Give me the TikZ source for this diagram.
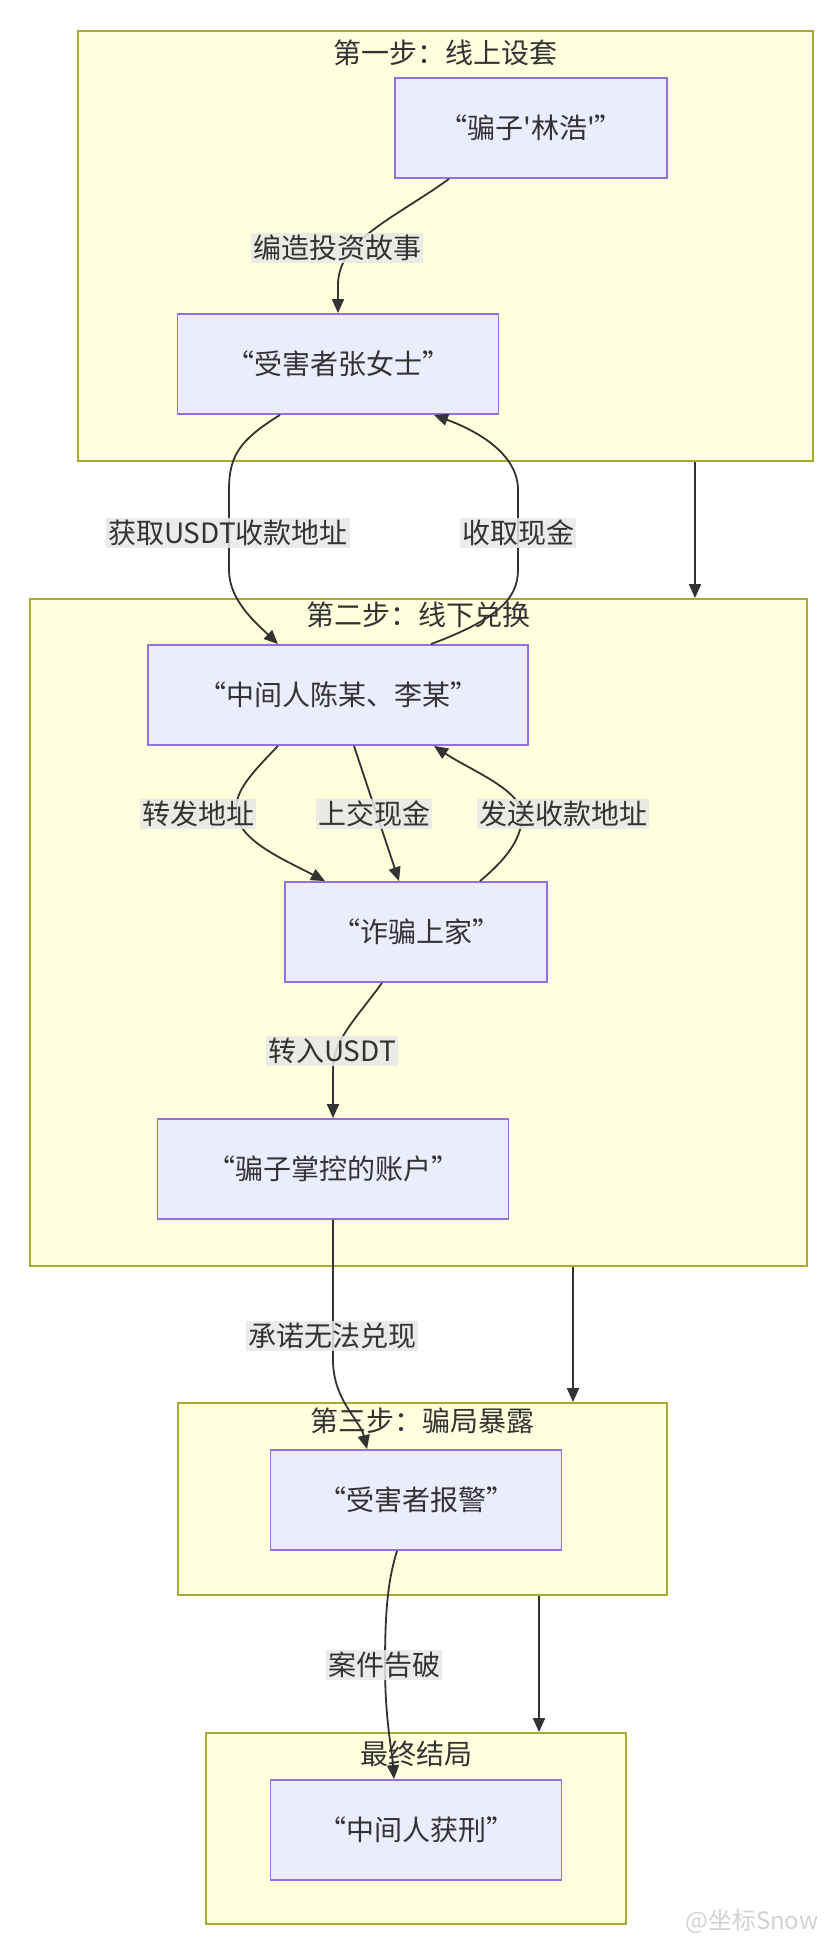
\documentclass[tikz,border=0pt]{standalone}
\usepackage{fontspec}
\setmainfont{Noto Sans CJK SC}
\usetikzlibrary{arrows.meta,calc,positioning}
\definecolor{clusterfill}{HTML}{FFFFDE}
\definecolor{clusterline}{HTML}{AAAA33}
\definecolor{boxfill}{HTML}{ECECFF}
\definecolor{boxline}{HTML}{9370DB}
\definecolor{labelfill}{HTML}{E8E8E8}
\definecolor{ink}{HTML}{333333}
\newcommand{\chartfont}{\fontsize{28}{33}\selectfont}
\tikzset{
    cluster/.style={draw=clusterline, fill=clusterfill, line width=1.8pt, inner sep=0pt},
    stagetitle/.style={font=\chartfont, text=ink, anchor=north},
    stepbox/.style={draw=boxline, fill=boxfill, line width=1.8pt, minimum height=100pt, font=\chartfont, text=ink},
    edgelabel/.style={fill=labelfill, fill opacity=0.85, text opacity=1, font=\chartfont, text=ink, inner sep=2pt},
    flow/.style={draw=ink, line width=1.8pt, -{Triangle[length=14pt,width=12pt]}}
}

\begin{document}
\begin{tikzpicture}[x=1pt,y=-1pt]
        \useasboundingbox (0,0) rectangle (828,1944);

        % Draw clusters.
        \node[cluster, minimum width=735pt, minimum height=430pt] (stage1) at (445.5,246) {};
        \node[cluster, minimum width=777pt, minimum height=667pt] (stage2) at (418.5,932.5) {};
        \node[cluster, minimum width=489pt, minimum height=192pt] (stage3) at (422.5,1499) {};
        \node[cluster, minimum width=420pt, minimum height=191pt] (stage4) at (416,1828.5) {};
        \node[stagetitle] (title1) at ($(stage1.north)+(0,6)$) {第一步：线上设套};
        \node[stagetitle] (title2) at ($(stage2.north)+(0,0)$) {第二步：线下兑换};
        \node[stagetitle] (title3) at ($(stage3.north)+(0,2)$) {第三步：骗局暴露};
        \node[stagetitle] (title4) at ($(stage4.north)+(0,5)$) {最终结局};

        % Draw steps.
        \node[stepbox, minimum width=272pt] (liu) at (531,128) {“骗子\textquotesingle 林浩\textquotesingle ”};
        \node[stepbox, minimum width=321pt] (zhang) at (338,364) {“受害者张女士”};
        \node[stepbox, minimum width=380pt] (mid) at (338,695) {“中间人陈某、李某”};
        \node[stepbox, minimum width=262pt] (upper) at (416,932) {“诈骗上家”};
        \node[stepbox, minimum width=351pt] (account) at (333,1169) {“骗子掌控的账户”};
        \node[stepbox, minimum width=291pt] (police) at (416,1500) {“受害者报警”};
        \node[stepbox, minimum width=291pt] (jail) at (416,1830) {“中间人获刑”};

        % Draw cluster arrows.
        \coordinate (drop1) at ($(stage1.south)+(249.5,0)$);
        \coordinate (drop2) at ($(stage2.south)+(154.5,0)$);
        \coordinate (drop3) at ($(stage3.south)+(116.5,0)$);
        \draw[flow] (drop1) -- (drop1 |- stage2.north);
        \draw[flow] (drop2) -- (drop2 |- stage3.north);
        \draw[flow] (drop3) -- (drop3 |- stage4.north);

        % Draw flows.
        \draw[flow] ($(liu.south)+(-82,0)$) .. controls (395,218) and (338,240) .. (338,285) -- (zhang.north);
        \draw[flow] ($(zhang.south)+(-58,0)$) .. controls (240,440) and (229,455) .. (229,490) -- (229,570)
            .. controls (229,600) and (255,622) .. ($(mid.north)+(-60,0)$);
        \draw[flow] ($(mid.north)+(93,0)$) .. controls (495,620) and (518,600) .. (518,570) -- (518,490)
            .. controls (518,455) and (480,432) .. ($(zhang.south)+(96,0)$);
        \draw[flow] ($(mid.south)+(-60,0)$) .. controls (250,775) and (236,790) .. (236,810)
            .. controls (236,840) and (285,860) .. ($(upper.north)+(-91,0)$);
        \draw[flow] ($(mid.south)+(16,0)$) -- ($(upper.north)+(-17,0)$);
        \draw[flow] ($(upper.north)+(64,0)$) .. controls (505,860) and (522,840) .. (522,815)
            .. controls (522,790) and (470,770) .. ($(mid.south)+(96,0)$);
        \draw[flow] ($(upper.south)+(-34,0)$) .. controls (355,1020) and (333,1040) .. (333,1070) -- (account.north);
        \draw[flow] (account.south) -- (333,1360) .. controls (333,1400) and (360,1420) .. ($(police.north)+(-49,0)$);
        \draw[flow] ($(police.south)+(-19,0)$) .. controls (388,1580) and (385,1610) .. (385,1665)
            .. controls (385,1720) and (392,1750) .. ($(jail.north)+(-22,0)$);

        % Draw flow labels.
        \node[edgelabel] (story) at (337,248) {编造投资故事};
        \node[edgelabel] (getaddr) at (228,533) {获取USDT收款地址};
        \node[edgelabel] (getcash) at (518,533) {收取现金};
        \node[edgelabel] (fwdaddr) at (198,814) {转发地址};
        \node[edgelabel] (handcash) at (374,814) {上交现金};
        \node[edgelabel] (sendaddr) at (563,814) {发送收款地址};
        \node[edgelabel] (usdt) at (332,1051) {转入USDT};
        \node[edgelabel] (promise) at (332,1336) {承诺无法兑现};
        \node[edgelabel] (solved) at (384,1665) {案件告破};

        % Watermark.
        \node[text=gray!35, font=\fontsize{24}{28}\selectfont] (mark) at (752,1921) {@坐标Snow};
    \end{tikzpicture}
\end{document}
